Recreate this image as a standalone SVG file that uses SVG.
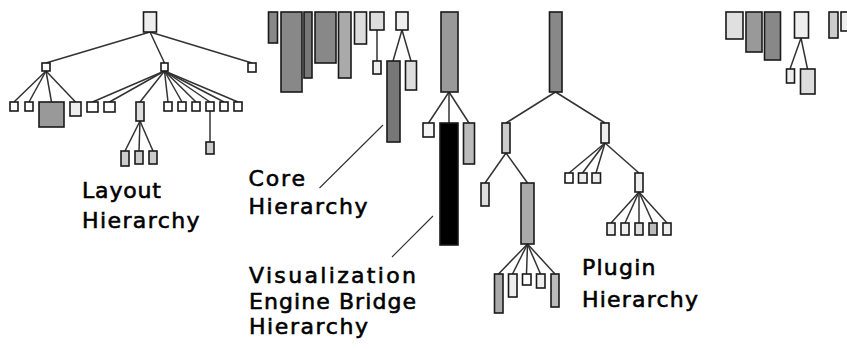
<svg xmlns="http://www.w3.org/2000/svg" width="847" height="349" viewBox="0 0 847 349">
<style>
.n{stroke:#1a1a1a;stroke-width:1.6}
.c line{stroke:#333;stroke-width:1.5}
.c line.l{stroke:#333;stroke-width:1.1}
.t{font-family:"DejaVu Sans","Verdana",sans-serif;font-size:22px;fill:#000;stroke:#000;stroke-width:0.6}
</style>
<rect width="847" height="349" fill="#fff"/>
<g class="c" id="connectors">
<line x1="150" y1="32" x2="46" y2="63"/><line x1="150" y1="32" x2="164.5" y2="63"/><line x1="150" y1="32" x2="252" y2="63"/>
<line x1="46" y1="71" x2="14" y2="102"/><line x1="46" y1="71" x2="29" y2="102"/><line x1="46" y1="71" x2="51.5" y2="102"/><line x1="46" y1="71" x2="75.5" y2="102"/>
<line x1="164.5" y1="71" x2="92.5" y2="102"/><line x1="164.5" y1="71" x2="109.5" y2="102"/><line x1="164.5" y1="71" x2="140" y2="102"/><line x1="164.5" y1="71" x2="168" y2="102"/><line x1="164.5" y1="71" x2="182" y2="102"/><line x1="164.5" y1="71" x2="196" y2="102"/><line x1="164.5" y1="71" x2="210" y2="102"/><line x1="164.5" y1="71" x2="224" y2="102"/><line x1="164.5" y1="71" x2="238" y2="102"/>
<line x1="140" y1="121" x2="125" y2="151"/><line x1="140" y1="121" x2="139" y2="151"/><line x1="140" y1="121" x2="153" y2="151"/>
<line x1="210" y1="111" x2="210" y2="142"/>
<line x1="377" y1="30" x2="377" y2="61"/>
<line x1="402" y1="30" x2="393" y2="61"/><line x1="402" y1="30" x2="411" y2="61"/>
<line x1="449" y1="92" x2="428.5" y2="123"/><line x1="449" y1="92" x2="449" y2="123"/><line x1="449" y1="92" x2="469" y2="123"/>
<line x1="555.5" y1="92" x2="506" y2="123"/><line x1="555.5" y1="92" x2="605" y2="123"/>
<line x1="506" y1="153" x2="485" y2="183"/><line x1="506" y1="153" x2="527.5" y2="183"/>
<line x1="527.5" y1="244" x2="498.5" y2="274"/><line x1="527.5" y1="244" x2="512.5" y2="274"/><line x1="527.5" y1="244" x2="526.5" y2="274"/><line x1="527.5" y1="244" x2="540.5" y2="274"/><line x1="527.5" y1="244" x2="555" y2="274"/>
<line x1="605" y1="143" x2="569" y2="173"/><line x1="605" y1="143" x2="582.5" y2="173"/><line x1="605" y1="143" x2="596" y2="173"/><line x1="605" y1="143" x2="639" y2="173"/>
<line x1="639" y1="192" x2="611" y2="223"/><line x1="639" y1="192" x2="625" y2="223"/><line x1="639" y1="192" x2="639" y2="223"/><line x1="639" y1="192" x2="653" y2="223"/><line x1="639" y1="192" x2="667" y2="223"/>
<line x1="801" y1="38" x2="790" y2="69"/><line x1="801" y1="38" x2="807.5" y2="69"/>
<line class="l" x1="319.5" y1="188" x2="383" y2="125"/>
<line class="l" x1="392" y1="257" x2="433" y2="216"/>
</g>
<g id="layout-hierarchy">
<rect class="n" x="143.5" y="12" width="13" height="20" fill="#eee"/>
<rect class="n" x="42" y="63" width="8" height="8" fill="#fff"/>
<rect class="n" x="161" y="63" width="7" height="8" fill="#fff"/>
<rect class="n" x="248" y="63" width="8" height="9" fill="#fff"/>
<rect class="n" x="10" y="102" width="8" height="9" fill="#fff"/>
<rect class="n" x="25" y="102" width="8" height="9" fill="#fff"/>
<rect class="n" x="39" y="102" width="25" height="25" fill="#999"/>
<rect class="n" x="70" y="102" width="11" height="14" fill="#eee"/>
<rect class="n" x="87" y="102" width="11" height="10" fill="#fff"/>
<rect class="n" x="104" y="102" width="11" height="10" fill="#fff"/>
<rect class="n" x="136" y="102" width="8" height="19" fill="#ddd"/>
<rect class="n" x="164" y="102" width="8" height="9" fill="#fff"/>
<rect class="n" x="178" y="102" width="8" height="9" fill="#fff"/>
<rect class="n" x="192" y="102" width="8" height="9" fill="#fff"/>
<rect class="n" x="206" y="102" width="8" height="9" fill="#fff"/>
<rect class="n" x="220" y="102" width="8" height="9" fill="#fff"/>
<rect class="n" x="234" y="102" width="8" height="9" fill="#fff"/>
<rect class="n" x="121" y="151" width="8" height="15" fill="#ccc"/>
<rect class="n" x="135" y="151" width="8" height="13" fill="#ccc"/>
<rect class="n" x="149" y="151" width="8" height="13" fill="#ccc"/>
<rect class="n" x="206" y="142" width="8" height="12" fill="#ccc"/>
</g>
<g id="core-hierarchy">
<rect class="n" x="268.5" y="12" width="9" height="31" fill="#888"/>
<rect class="n" x="281" y="12" width="21" height="80" fill="#888"/>
<rect class="n" x="304" y="12" width="8" height="66" fill="#777"/>
<rect class="n" x="315" y="12" width="21" height="51" fill="#888"/>
<rect class="n" x="338.5" y="12" width="12.5" height="66" fill="#aaa"/>
<rect class="n" x="354.5" y="12" width="12" height="32" fill="#ddd"/>
<rect class="n" x="370" y="12" width="14" height="18" fill="#ddd"/>
<rect class="n" x="373" y="61" width="8" height="13" fill="#eee"/>
<rect class="n" x="396" y="12" width="12" height="18" fill="#eee"/>
<rect class="n" x="387" y="61" width="13" height="81" fill="#777"/>
<rect class="n" x="405.5" y="61" width="11" height="29" fill="#ddd"/>
</g>
<g id="veb-hierarchy">
<rect class="n" x="441" y="12" width="17" height="80" fill="#999"/>
<rect class="n" x="423" y="123" width="11" height="14" fill="#f5f5f5"/>
<rect class="n" x="440" y="123" width="18" height="122" fill="#000"/>
<rect class="n" x="463.5" y="123" width="11" height="41" fill="#bbb"/>
</g>
<g id="plugin-hierarchy">
<rect class="n" x="549.5" y="12" width="12.5" height="80" fill="#888"/>
<rect class="n" x="502" y="123" width="8" height="30" fill="#ccc"/>
<rect class="n" x="601" y="123" width="8" height="20" fill="#eee"/>
<rect class="n" x="481" y="183" width="8" height="23" fill="#ddd"/>
<rect class="n" x="521" y="183" width="13" height="61" fill="#aaa"/>
<rect class="n" x="494.5" y="274" width="8.5" height="39" fill="#aaa"/>
<rect class="n" x="508.5" y="274" width="8.5" height="23" fill="#eee"/>
<rect class="n" x="522.5" y="274" width="8.5" height="11" fill="#fff"/>
<rect class="n" x="536.5" y="274" width="8.5" height="14" fill="#eee"/>
<rect class="n" x="551" y="274" width="8" height="33" fill="#bbb"/>
<rect class="n" x="565" y="173" width="8" height="10" fill="#fff"/>
<rect class="n" x="578.5" y="173" width="8.5" height="10" fill="#eee"/>
<rect class="n" x="592" y="173" width="8.5" height="10" fill="#eee"/>
<rect class="n" x="635" y="173" width="8" height="19" fill="#eee"/>
<rect class="n" x="607" y="223" width="8" height="12" fill="#eee"/>
<rect class="n" x="621" y="223" width="8" height="12" fill="#eee"/>
<rect class="n" x="635" y="223" width="8" height="12" fill="#ddd"/>
<rect class="n" x="649" y="223" width="8" height="12" fill="#bbb"/>
<rect class="n" x="663" y="223" width="8" height="12" fill="#eee"/>
</g>
<g id="partial-hierarchy">
<rect class="n" x="726" y="12" width="17" height="27" fill="#e0e0e0"/>
<rect class="n" x="746" y="12" width="16" height="40" fill="#999"/>
<rect class="n" x="764.5" y="12" width="16" height="48" fill="#888"/>
<rect class="n" x="794.5" y="12" width="14" height="26" fill="#eee"/>
<rect class="n" x="786.5" y="69" width="8" height="14" fill="#eee"/>
<rect class="n" x="800.5" y="69" width="14.5" height="25" fill="#ddd"/>
<rect class="n" x="829" y="12" width="9" height="26" fill="#ccc"/>
<rect class="n" x="841" y="12" width="10" height="19" fill="#eee"/>
</g>
<g id="labels" class="t">
<text x="82" y="197.5" textLength="79" lengthAdjust="spacing">Layout</text>
<text x="82" y="227.5" textLength="117.5" lengthAdjust="spacing">Hierarchy</text>
<text x="248.5" y="185.7" textLength="56.5" lengthAdjust="spacing">Core</text>
<text x="248.5" y="214.3" textLength="119" lengthAdjust="spacing">Hierarchy</text>
<text x="249" y="283.3" textLength="167" lengthAdjust="spacing">Visualization</text>
<text x="249" y="308.7" textLength="167" lengthAdjust="spacing">Engine Bridge</text>
<text x="249" y="333.7" textLength="119" lengthAdjust="spacing">Hierarchy</text>
<text x="582" y="275.3" textLength="73.5" lengthAdjust="spacing">Plugin</text>
<text x="582" y="306.7" textLength="116" lengthAdjust="spacing">Hierarchy</text>
</g>
</svg>
